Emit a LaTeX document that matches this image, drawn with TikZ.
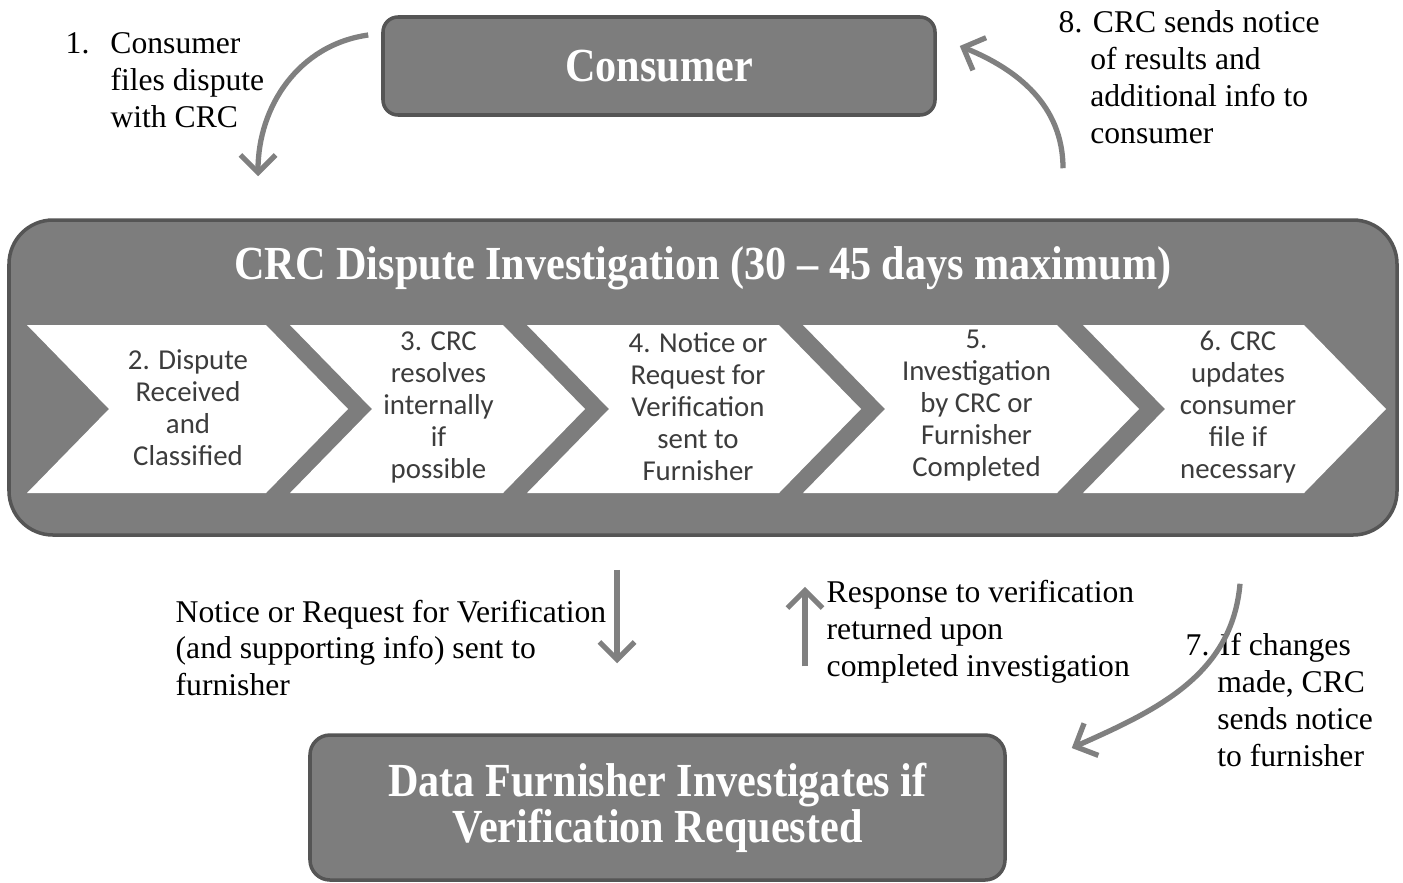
\documentclass[tikz,border=0pt]{standalone}
\usepackage{fontspec}
\setmainfont{Liberation Serif}
\newfontfamily\chevfont{Carlito}
\newfontfamily\boxfont[FakeStretch=0.89]{Liberation Serif}
\usepackage{tikz}
\usetikzlibrary{arrows.meta,positioning,calc}

\definecolor{boxgray}{RGB}{125,125,125}
\definecolor{edgegray}{RGB}{85,85,85}
\definecolor{arrowgray}{RGB}{128,128,128}
\definecolor{chevtext}{RGB}{60,60,60}

\begin{document}
\begin{tikzpicture}[
    box/.style={rectangle, rounded corners=0.15cm, draw=edgegray, line width=1pt, fill=boxgray, text=white, align=center, font=\boxfont\bfseries\fontsize{13.5}{13.1}\selectfont},
    boxtext/.style={text=white, align=center, font=\boxfont\bfseries\fontsize{13.5}{13.1}\selectfont},
    chev/.style={fill=white},
    steptext/.style={align=center, text=chevtext, font=\chevfont\fontsize{8.2}{9.1}\selectfont},
    note/.style={anchor=west, align=left, inner sep=0pt, font=\fontsize{9}{10.5}\selectfont},
    arrow/.style={-{Straight Barb[length=5pt,width=10pt]}, line width=1.5pt, draw=arrowgray}
]
    \useasboundingbox (0,0) rectangle (14.03,8.82);

    \node[box, minimum width=5.52cm, minimum height=0.98cm] (consumer) at (6.59,8.16) {Consumer};
    \node[box, rounded corners=0.44cm, minimum width=13.88cm, minimum height=3.15cm] (crc) at (7.03,5.045) {};
    \node[boxtext] (title) at (7.03,6.14) {CRC Dispute Investigation (30 – 45 days maximum)};
    \node[box, rounded corners=0.2cm, minimum width=6.95cm, minimum height=1.45cm] (furnisher) at (6.575,0.745) {Data Furnisher Investigates if\\Verification Requested};

    % steps inside the investigation box
    \fill[chev] (0.27,5.57) -- (2.66,5.57) -- (3.48,4.73) -- (2.66,3.89) -- (0.27,3.89) -- (1.09,4.73) -- cycle;
    \fill[chev] (2.90,5.57) -- (5.03,5.57) -- (5.85,4.73) -- (5.03,3.89) -- (2.90,3.89) -- (3.72,4.73) -- cycle;
    \fill[chev] (5.27,5.57) -- (7.79,5.57) -- (8.61,4.73) -- (7.79,3.89) -- (5.27,3.89) -- (6.09,4.73) -- cycle;
    \fill[chev] (8.03,5.57) -- (10.57,5.57) -- (11.39,4.73) -- (10.57,3.89) -- (8.03,3.89) -- (8.85,4.73) -- cycle;
    \fill[chev] (10.83,5.57) -- (13.04,5.57) -- (13.86,4.73) -- (13.04,3.89) -- (10.83,3.89) -- (11.65,4.73) -- cycle;

    \node[steptext] (s2) at (1.88,4.74) {2. Dispute\\Received\\and\\Classified};
    \node[steptext] (s3) at (4.385,4.75) {3. CRC\\resolves\\internally\\if\\possible};
    \node[steptext] (s4) at (6.98,4.75) {4. Notice or\\Request for\\Verification\\sent to\\Furnisher};
    \node[steptext] (s5) at (9.765,4.76) {5.\\Investigation\\by CRC or\\Furnisher\\Completed};
    \node[steptext] (s6) at (12.38,4.75) {6. CRC\\updates\\consumer\\file if\\necessary};

    % labels
    \node[note] (n1) at (0.65,8.015) {1.\hspace{6pt}Consumer\\\phantom{1.\hspace{6pt}}files dispute\\\phantom{1.\hspace{6pt}}with CRC};
    \node[note] (n8) at (10.58,8.045) {8. CRC sends notice\\\phantom{8.\ }of results and\\\phantom{8.\ }additional info to\\\phantom{8.\ }consumer};
    \node[note] (n7) at (11.85,1.82) {7. If changes\\\phantom{7.\ }made, CRC\\\phantom{7.\ }sends notice\\\phantom{7.\ }to furnisher};
    \node[note] (nsend) at (1.75,2.34) {Notice or Request for Verification\\(and supporting info) sent to\\furnisher};
    \node[note] (nback) at (8.26,2.505) {Response to verification\\returned upon\\completed investigation};

    % connectors
    \coordinate (dn) at (6.17,0);
    \coordinate (up) at (8.05,0);
    \draw[arrow] ($(consumer.west)+(-0.13,0.31)$) to[out=188,in=90] ($(crc.north)+(-4.45,0.42)$);
    \draw[arrow] ($(crc.north)+(3.60,0.50)$) to[out=90,in=-22] ($(consumer.east)+(0.23,0.20)$);
    \draw[arrow, shorten <=0.33cm, shorten >=0.70cm] (crc.south -| dn) -- (furnisher.north -| dn);
    \draw[arrow, shorten <=0.67cm, shorten >=0.50cm] (furnisher.north -| up) -- (crc.south -| up);
    \draw[arrow] ($(crc.south)+(5.37,-0.47)$) to[out=-95,in=24] ($(furnisher.east)+(0.65,0.595)$);
\end{tikzpicture}
\end{document}
